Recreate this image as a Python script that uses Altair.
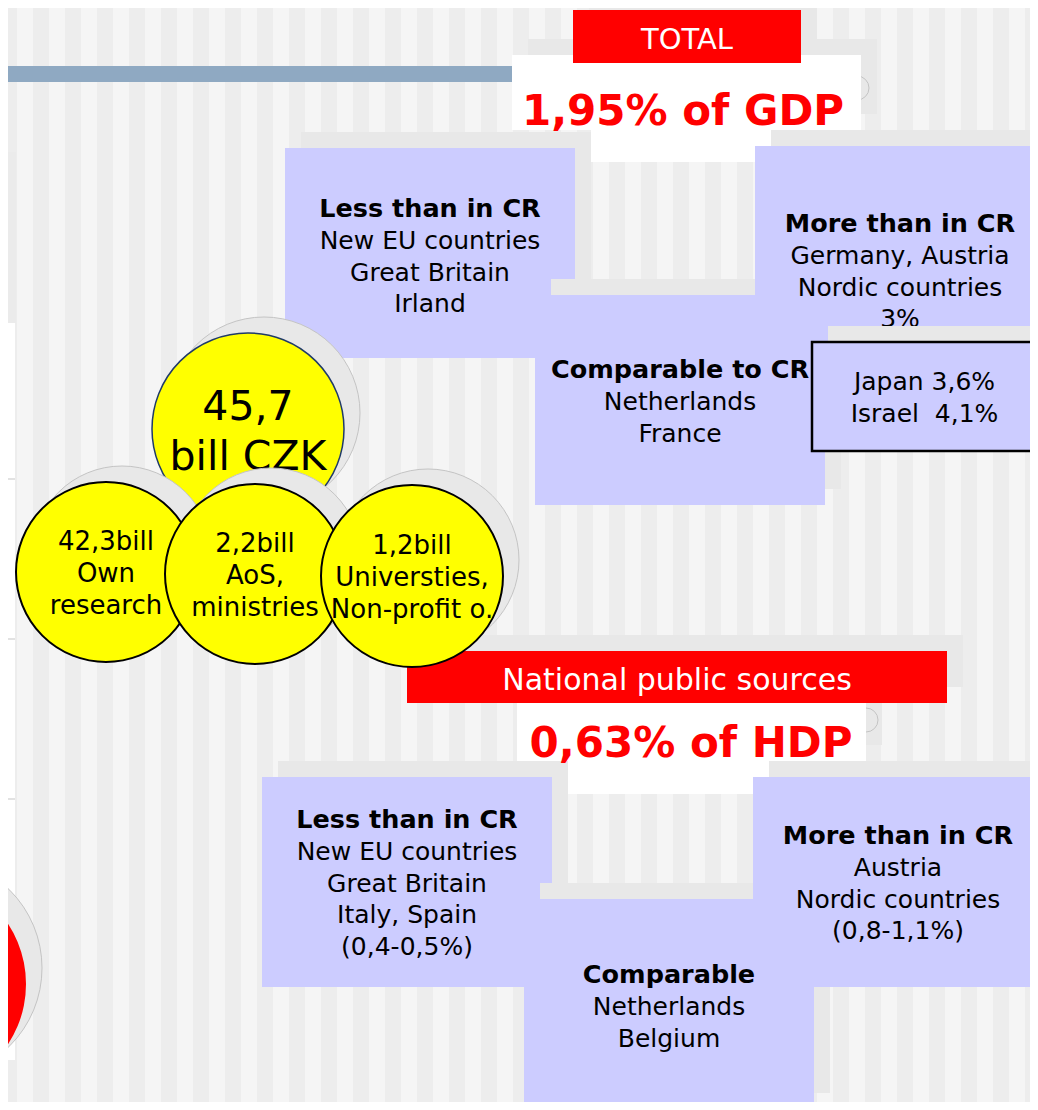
import altair as alt
import pandas as pd

# ---------------- content ----------------
total_label = "TOTAL"
total_share = "1,95% of GDP"
public_label = "National public sources"
public_share = "0,63% of HDP"

top_titles = ["Less than in CR", "Comparable to CR", "More than in CR"]
top_lines = [["New EU countries", "Great Britain", "Irland"],
             ["Netherlands", "France"],
             ["Germany, Austria", "Nordic countries", "3%"]]
note_lines = ["Japan 3,6%", "Israel\u00a0\u00a04,1%"]

bottom_titles = ["Less than in CR", "Comparable", "More than in CR"]
bottom_lines = [["New EU countries", "Great Britain", "Italy, Spain", "(0,4-0,5%)"],
                ["Netherlands", "Belgium"],
                ["Austria", "Nordic countries", "(0,8-1,1%)"]]

total_czk = ["45,7", "bill CZK"]
source_labels = [["42,3bill", "Own", "research"],
                 ["2,2bill", "AoS,", "ministries"],
                 ["1,2bill", "Universties,", "Non-profit o."]]

# ---------------- layout (page pixels) ----------------
W, H, M = 1038, 1110, 8
SH = 16                      # shadow offset: right and up
BOX_W, BOX_H = 290, 210
top_box_xy = [(285, 148), (535, 295), (755, 146)]
top_text_base = [69, 83, 86]
bottom_box_xy = [(262, 777), (524, 899), (753, 777)]
bottom_text_base = [51, 84, 67]
LH = 31.8

note_box = (812, 342, 1037, 451)
note_base = [390, 422]

big_circle = (248, 429, 96)
small_circles = [(106, 572, 90), (255, 574, 90), (412, 576, 91)]
red_circle = (-84, 984, 110)
ghost_circles = [(857, 88, 12), (866, 720, 12)]

FONT = "DejaVu Sans"
BG_DARK, BG_LIGHT = "#EDEDED", "#F5F5F5"
SHADOW, SHADOW_EDGE = "#E8E8E8", "#C4C4C4"
LAV, RED, YEL, BAR = "#CCCCFF", "#FF0000", "#FFFF00", "#8FA9C2"

xs = alt.Scale(domain=[M, W - M], nice=False, zero=False)
ys = alt.Scale(domain=[M, H - M], nice=False, zero=False, reverse=True)


def R(rows, x0, y0, x1, y1, fill, stroke=None, sw=0):
    rows.append(dict(x0=x0, y0=y0, x1=x1, y1=y1, fill=fill,
                     stroke=stroke or fill, sw=sw))


def shadowed(rows, x0, y0, x1, y1, fill):
    R(rows, x0 + SH, y0 - SH, x1 + SH, y1 - SH, SHADOW)
    R(rows, x0, y0, x1, y1, fill)


def rect_layer(rows):
    return alt.Chart(pd.DataFrame(rows)).mark_rect().encode(
        x=alt.X("x0:Q", scale=xs, axis=None), x2="x1:Q",
        y=alt.Y("y0:Q", scale=ys, axis=None), y2="y1:Q",
        fill=alt.Fill("fill:N", scale=None),
        stroke=alt.Stroke("stroke:N", scale=None),
        strokeWidth=alt.StrokeWidth("sw:Q", scale=None))


def text_layer(rows, weight="normal"):
    return alt.Chart(pd.DataFrame(rows)).mark_text(
        font=FONT, fontWeight=weight, align="center", baseline="alphabetic"
    ).encode(
        x=alt.X("x:Q", scale=xs, axis=None),
        y=alt.Y("y:Q", scale=ys, axis=None),
        text="t:N",
        size=alt.Size("fs:Q", scale=None),
        color=alt.Color("c:N", scale=None))


def circle_layer(rows):
    return alt.Chart(pd.DataFrame(rows)).mark_point(
        shape="circle", filled=True, opacity=1
    ).encode(
        x=alt.X("cx:Q", scale=xs, axis=None),
        y=alt.Y("cy:Q", scale=ys, axis=None),
        size=alt.Size("s:Q", scale=None),
        fill=alt.Fill("fill:N", scale=None),
        stroke=alt.Stroke("stroke:N", scale=None),
        strokeWidth=alt.StrokeWidth("sw:Q", scale=None))


def C(rows, cx, cy, r, fill, stroke, sw):
    rows.append(dict(cx=cx, cy=cy, s=(2 * r) ** 2, fill=fill, stroke=stroke, sw=sw))


def T(rows, x, y, t, fs, c="black"):
    rows.append(dict(x=x, y=y, t=t, fs=fs, c=c))


layers = []

# ---- background stripes, left panel, bar, title shadows ----
a1 = []
for k in range(-1, W // 16 + 2):
    x = 1 + 16 * k
    R(a1, x, 0, x + 16, H, BG_DARK if k % 2 == 0 else BG_LIGHT)
R(a1, 0, 152, 16, 323, "#EBEBEB")
R(a1, 0, 323, 15, 1060, "white")
for yy in (478, 638, 798):
    R(a1, 0, yy, 15, yy + 2, "#E2E2E2")
R(a1, 0, 66, 512, 82, BAR)
# title group shadows (top and bottom)
R(a1, 573 + SH, 10 - SH, 801 + SH, 63 - SH, SHADOW)
R(a1, 512 + SH, 55 - SH, 861 + SH, 130 - SH, SHADOW)
R(a1, 591 + SH, 130 - SH, 771 + SH, 162 - SH, SHADOW)
R(a1, 407 + SH, 651 - SH, 947 + SH, 703 - SH, SHADOW)
R(a1, 517 + SH, 703 - SH, 866 + SH, 761 - SH, SHADOW)
R(a1, 568 + SH, 761 - SH, 769 + SH, 794 - SH, SHADOW)
layers.append(rect_layer(a1))

g = []
for cx, cy, r in ghost_circles:
    C(g, cx, cy, r, "rgba(0,0,0,0)", SHADOW_EDGE, 1)
layers.append(circle_layer(g))

# ---- title boxes and category boxes ----
a2 = []
R(a2, 512, 55, 861, 130, "white")
R(a2, 591, 130, 771, 162, "white")
R(a2, 573, 10, 801, 63, RED)
for bx, by in top_box_xy:
    shadowed(a2, bx, by, bx + BOX_W, by + BOX_H, LAV)
R(a2, 517, 703, 866, 761, "white")
R(a2, 568, 761, 769, 794, "white")
R(a2, 407, 651, 947, 703, RED)
for bx, by in bottom_box_xy:
    shadowed(a2, bx, by, bx + BOX_W, by + BOX_H, LAV)
layers.append(rect_layer(a2))

reg, bold = [], []
T(reg, 687, 49, total_label, 29, "white")
T(bold, 683, 125, total_share, 42, RED)
T(reg, 677, 690, public_label, 30, "white")
T(bold, 691, 757, public_share, 42, RED)
for (bx, by), base, title, lines in zip(top_box_xy, top_text_base, top_titles, top_lines):
    cx = bx + BOX_W / 2
    T(bold, cx, by + base, title, 25.5)
    for i, ln in enumerate(lines):
        T(reg, cx, by + base + (i + 1) * LH, ln, 25)
for (bx, by), base, title, lines in zip(bottom_box_xy, bottom_text_base, bottom_titles, bottom_lines):
    cx = bx + BOX_W / 2
    T(bold, cx, by + base, title, 25.5)
    for i, ln in enumerate(lines):
        T(reg, cx, by + base + (i + 1) * LH, ln, 25)
layers.append(text_layer(reg))
layers.append(text_layer(bold, "bold"))

# ---- note box (Japan / Israel) ----
nb = []
x0, y0, x1, y1 = note_box
R(nb, x0 + SH, y0 - SH, x1 + SH, y1 - SH, SHADOW)
R(nb, x0, y0, x1, y1, LAV, "black", 2.5)
layers.append(rect_layer(nb))
nt = []
for base, ln in zip(note_base, note_lines):
    T(nt, (x0 + x1) / 2, base, ln, 25)
layers.append(text_layer(nt))

# ---- circles ----
cx, cy, r = big_circle
c = []
C(c, cx + SH, cy - SH, r, SHADOW, SHADOW_EDGE, 1)
C(c, cx, cy, r, YEL, "#1F3A68", 1.5)
layers.append(circle_layer(c))
t = []
for i, ln in enumerate(total_czk):
    T(t, cx, cy - 9 + i * 50, ln, 41)
layers.append(text_layer(t))

for (cx, cy, r), lines in zip(small_circles, source_labels):
    c = []
    C(c, cx + SH, cy - SH, r, SHADOW, SHADOW_EDGE, 1)
    C(c, cx, cy, r, YEL, "black", 2)
    layers.append(circle_layer(c))
    t = []
    for i, ln in enumerate(lines):
        T(t, cx, cy - 22 + i * 32, ln, 26)
    layers.append(text_layer(t))

cx, cy, r = red_circle
c = []
C(c, cx + SH, cy - SH, r, SHADOW, SHADOW_EDGE, 1)
C(c, cx, cy, r, RED, RED, 0)
layers.append(circle_layer(c))

chart = alt.layer(*layers).properties(
    width=W - 2 * M, height=H - 2 * M, padding=0,
    autosize=alt.AutoSizeParams(type="none"),
    background="white"
).configure_view(stroke=None)

chart.save("out.html", embed_options={"renderer": "svg", "actions": False})
